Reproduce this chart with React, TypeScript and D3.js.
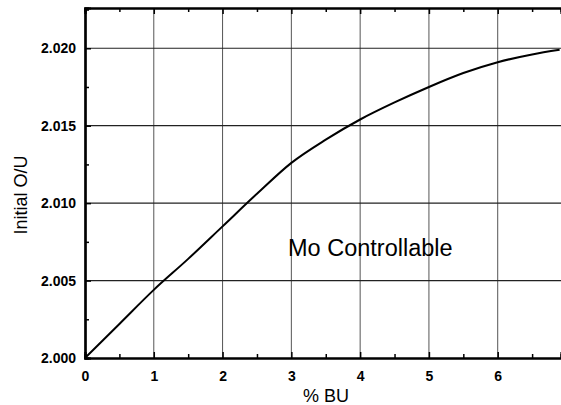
import { useEffect, useRef } from 'react'
import * as d3 from 'd3'

// Curve
const burnup = [0, 0.5, 1, 1.5, 2, 2.5, 3, 3.5, 4, 4.5, 5, 5.5, 6, 6.5, 6.9]
const initialOU = [2.0, 2.0022, 2.0044, 2.0064, 2.0085, 2.0106, 2.0126, 2.0141, 2.0154, 2.0165, 2.0175, 2.0184, 2.0191, 2.0196, 2.0199]

const xTicks = [0, 1, 2, 3, 4, 5, 6]
const xMinor = [0.5, 1.5, 2.5, 3.5, 4.5, 5.5, 6.5]
const yTicks = [2.0, 2.005, 2.01, 2.015, 2.02]
const yMinor = [2.0025, 2.0075, 2.0125, 2.0175, 2.0225]

export default function App() {
  const chartRef = useRef<SVGSVGElement | null>(null)

  useEffect(() => {
    if (!chartRef.current) return
    const svg = d3.select(chartRef.current)
    svg.selectAll('*').remove()

    const width = 561
    const height = 405
    const margin = { top: 8, right: 0, bottom: 47, left: 85 }
    const font = 'Arial, "Liberation Sans", Helvetica, sans-serif'

    const x = d3.scaleLinear().domain([0, 6.92]).range([margin.left, width - margin.right])
    const y = d3.scaleLinear().domain([2.0, 2.0226]).range([height - margin.bottom, margin.top])

    // grid
    svg.append('g')
      .selectAll('line')
      .data(xTicks.slice(1))
      .enter()
      .append('line')
      .attr('x1', d => x(d)).attr('x2', d => x(d))
      .attr('y1', y.range()[0]).attr('y2', y.range()[1])
      .attr('stroke', '#555')
      .attr('stroke-width', 1)

    svg.append('g')
      .selectAll('line')
      .data(yTicks.slice(1))
      .enter()
      .append('line')
      .attr('x1', x.range()[0]).attr('x2', x.range()[1])
      .attr('y1', d => y(d)).attr('y2', d => y(d))
      .attr('stroke', '#222')
      .attr('stroke-width', 1.2)

    // curve
    const line = d3.line<number>()
      .x(d => x(d))
      .y((d, i) => y(initialOU[i]))
      .curve(d3.curveMonotoneX)

    svg.append('path')
      .datum(burnup)
      .attr('fill', 'none')
      .attr('stroke', '#000')
      .attr('stroke-width', 2)
      .attr('d', line)

    // axes (ticks pointing inward)
    const bottom = svg.append('g').attr('transform', `translate(0,${y(2.0)})`)
    bottom.call(d3.axisBottom(x).tickValues(xMinor).tickSize(-4).tickFormat(() => ''))
    bottom.call(g => g.append('g').call(d3.axisBottom(x).tickValues(xTicks).tickSize(-6).tickPadding(13).tickFormat(d3.format('d'))))

    const top = svg.append('g').attr('transform', `translate(0,${y.range()[1]})`)
    top.call(d3.axisTop(x).tickValues(xMinor).tickSize(-4).tickFormat(() => ''))
    top.call(g => g.append('g').call(d3.axisTop(x).tickValues(xTicks).tickSize(-6).tickFormat(() => '')))

    const left = svg.append('g').attr('transform', `translate(${x(0)},0)`)
    left.call(d3.axisLeft(y).tickValues(yMinor).tickSize(-4).tickFormat(() => ''))
    left.call(g => g.append('g').call(d3.axisLeft(y).tickValues(yTicks).tickSize(-6).tickPadding(9).tickFormat(d3.format('.3f'))))

    svg.selectAll('.domain').attr('stroke', '#000').attr('stroke-width', 2.2)
    svg.selectAll('.tick line').attr('stroke', '#000').attr('stroke-width', 1.5)
    svg.selectAll('.tick text')
      .attr('fill', '#000')
      .style('font-family', font)
      .style('font-size', '14px')
      .style('font-weight', 'bold')

    // labels
    svg.append('text')
      .attr('x', 326)
      .attr('y', 402)
      .attr('text-anchor', 'middle')
      .style('font-family', font)
      .style('font-size', '18px')
      .text('% BU')

    svg.append('text')
      .attr('transform', `translate(27,195) rotate(-90)`)
      .attr('text-anchor', 'middle')
      .style('font-family', font)
      .style('font-size', '18px')
      .text('Initial O/U')

    svg.append('text')
      .attr('x', 288)
      .attr('y', 256)
      .style('font-family', font)
      .style('font-size', '23.5px')
      .text('Mo Controllable')

    svg.attr('width', width).attr('height', height)
  }, [])

  return (
    <div style={{ position: 'absolute', left: 0, top: 0, background: '#fff' }}>
      <svg ref={chartRef} style={{ display: 'block' }}></svg>
    </div>
  )
}
